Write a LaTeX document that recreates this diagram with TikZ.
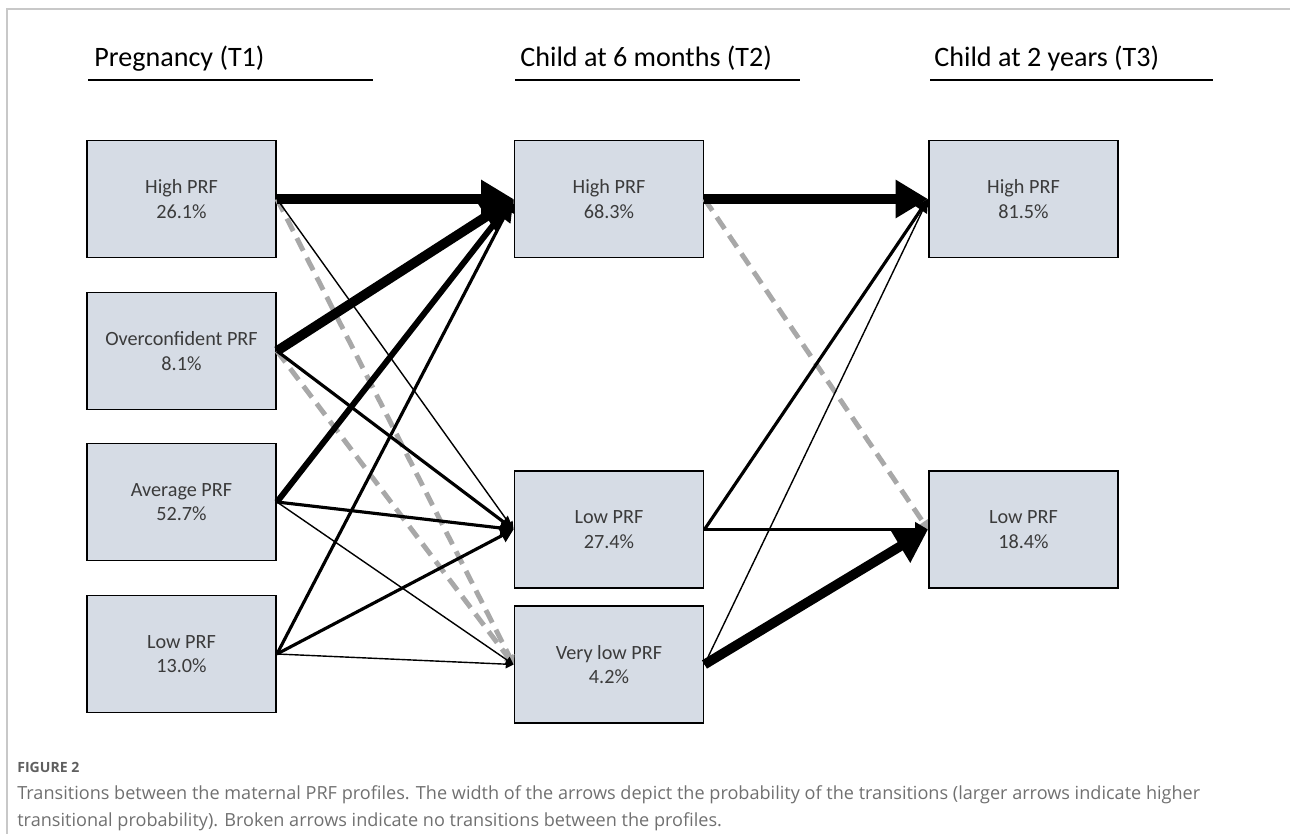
\documentclass[tikz,border=0pt]{standalone}
\usepackage{fontspec}
\setmainfont{Carlito}
\newfontfamily\capfont{Open Sans}
\usepackage{tikz}
\usetikzlibrary{arrows.meta}
\definecolor{boxfill}{HTML}{D6DCE5}
\definecolor{boxtext}{HTML}{3B3B3B}
\definecolor{nogray}{HTML}{A8A8A8}
\definecolor{framegray}{HTML}{C8C8C8}
\definecolor{captext}{HTML}{707070}

\begin{document}
\begin{tikzpicture}[x=0.02cm,y=-0.02cm,
    prof/.style={draw=black, line width=1.1pt, fill=boxfill, text=boxtext,
      minimum width=3.78cm, minimum height=2.34cm, align=center,
      font=\fontsize{11.5}{14}\selectfont},
    head/.style={anchor=base west, inner sep=0pt, font=\fontsize{16}{19}\selectfont},
    tr/.style={draw=black, -{Triangle[length=2pt 3, width=2pt 3.4]}},
    pbig/.style={tr, line width=5.5pt},
    pwide/.style={tr, line width=3.4pt},
    pmid/.style={tr, line width=1.8pt},
    pthin/.style={tr, line width=0.8pt},
    nogo/.style={draw=nogray, line width=2.8pt, dash pattern=on 8pt off 4.5pt,
      -{Triangle[length=5pt, width=6pt]}}]
        \useasboundingbox (0,0) rectangle (1290,834);
        % frame
        \draw[framegray, line width=0.8pt] (7,834) -- (7,9) -- (1290,9);
        % time points
        \node[head] (h1) at (94,67) {Pregnancy (T1)};
        \node[head] (h2) at (520,67) {Child at 6 months (T2)};
        \node[head] (h3) at (934,67) {Child at 2 years (T3)};
        \draw[line width=1.3pt] (88,80) -- (373,80);
        \draw[line width=1.3pt] (515,80) -- (800,80);
        \draw[line width=1.3pt] (930,80) -- (1213,80);
        % profiles T1
        \node[prof] (a1) at (181.5,199) {High PRF\\26.1\%};
        \node[prof] (a2) at (181.5,351) {Overconfident PRF\\8.1\%};
        \node[prof] (a3) at (181.5,502) {Average PRF\\52.7\%};
        \node[prof] (a4) at (181.5,654) {Low PRF\\13.0\%};
        % profiles T2
        \node[prof] (b1) at (609,199) {High PRF\\68.3\%};
        \node[prof] (b2) at (609,529.5) {Low PRF\\27.4\%};
        \node[prof] (b3) at (609,664.5) {Very low PRF\\4.2\%};
        % profiles T3
        \node[prof] (c1) at (1023.5,199) {High PRF\\81.5\%};
        \node[prof] (c2) at (1023.5,529.5) {Low PRF\\18.4\%};
        % no transitions
        \draw[nogo] (a1.east) -- (b3.west);
        \draw[nogo] (a2.east) -- (b3.west);
        \draw[nogo] (b1.east) -- (c2.west);
        % T1 -> T2
        \draw[pbig] (a1.east) -- (b1.west);
        \draw[pthin] (a1.east) -- (b2.west);
        \draw[pbig] (a2.east) -- (b1.west);
        \draw[pmid] (a2.east) -- (b2.west);
        \draw[pwide] (a3.east) -- (b1.west);
        \draw[pmid] (a3.east) -- (b2.west);
        \draw[pthin] (a3.east) -- (b3.west);
        \draw[pmid] (a4.east) -- (b1.west);
        \draw[pmid] (a4.east) -- (b2.west);
        \draw[pthin] (a4.east) -- (b3.west);
        % T2 -> T3
        \draw[pbig] (b1.east) -- (c1.west);
        \draw[pmid] (b2.east) -- (c1.west);
        \draw[pmid] (b2.east) -- (c2.west);
        \draw[pthin] (b3.east) -- (c1.west);
        \draw[pbig] (b3.east) -- (c2.west);
        % caption
        \node[anchor=base west, inner sep=0pt, text=captext!85!black,
          font=\capfont\bfseries\fontsize{8}{9}\selectfont] (figno) at (17,772) {FIGURE 2};
        \node[anchor=north west, inner sep=0pt, text=captext, align=left,
          font=\capfont\fontsize{10.3}{15.4}\selectfont] (cap) at (17,785)
          {Transitions between the maternal PRF profiles. The width of the arrows depict the probability of the transitions (larger arrows indicate higher\\
           transitional probability). Broken arrows indicate no transitions between the profiles.};
    \end{tikzpicture}
\end{document}
